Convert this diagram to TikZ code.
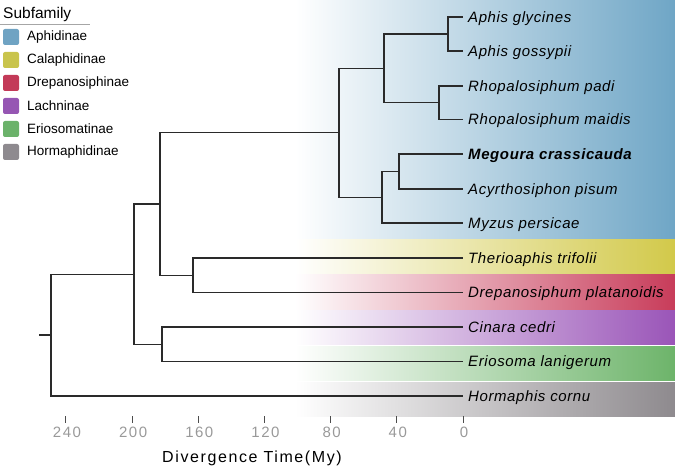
\documentclass[tikz,border=0pt]{standalone}
\usepackage{fontspec}
\setmainfont{Liberation Sans}
\newfontfamily\labfont[LetterSpace=4]{Liberation Sans}
\newfontfamily\axfont[LetterSpace=10]{Liberation Sans}
\definecolor{aphid}{HTML}{6FA6C6}
\definecolor{calaph}{HTML}{D2C94A}
\definecolor{drep}{HTML}{C83C5A}
\definecolor{lachn}{HTML}{9A55B8}
\definecolor{erio}{HTML}{6DB46A}
\definecolor{horma}{HTML}{8E8A8E}
\definecolor{lgaphid}{HTML}{6FA3C3}
\definecolor{lgcalaph}{HTML}{C9C44C}
\definecolor{lgdrep}{HTML}{C33A58}
\definecolor{lglachn}{HTML}{9656B3}
\definecolor{lgerio}{HTML}{6BB26A}
\definecolor{lghorma}{HTML}{8E8A8F}
\definecolor{treeline}{HTML}{2A2A2A}
\tikzset{
  branch/.style={draw=treeline, line width=1.1pt},
  leaf/.style={anchor=west, inner xsep=5pt, inner ysep=0pt, text height=10.7pt, text depth=0pt, font=\labfont\itshape\fontsize{15}{18}\selectfont},
  legbox/.style={fill=#1, rounded corners=2pt, minimum size=16pt, inner sep=0pt},
  legtext/.style={anchor=west, inner sep=0pt, font=\fontsize{13.5}{16}\selectfont},
  ticklab/.style={text=black!40, inner sep=0pt, font=\axfont\fontsize{15}{18}\selectfont},
  tickmark/.style={draw=black!70, line width=1pt}
}
\begin{document}
\begin{tikzpicture}[x=1pt,y=-1pt]
\useasboundingbox (0,0) rectangle (675,468);
% bands
\shade[left color=white, right color=aphid] (295,0) rectangle (675,238);
\shade[left color=white, right color=calaph] (295,239) rectangle (675,273);
\shade[left color=white, right color=drep] (295,274) rectangle (675,309);
\shade[left color=white, right color=lachn] (295,310) rectangle (675,344);
\shade[left color=white, right color=erio] (295,346) rectangle (675,380);
\shade[left color=white, right color=horma] (295,382) rectangle (675,416);
% leaves
\node[leaf] (t1) at (463,17) {Aphis glycines};
\node[leaf] (t2) at (463,51) {Aphis gossypii};
\node[leaf] (t3) at (463,86) {Rhopalosiphum padi};
\node[leaf] (t4) at (463,119.5) {Rhopalosiphum maidis};
\node[leaf, font=\labfont\bfseries\itshape\fontsize{15}{18}\selectfont] (t5) at (463,154) {Megoura crassicauda};
\node[leaf] (t6) at (463,189) {Acyrthosiphon pisum};
\node[leaf] (t7) at (463,223) {Myzus persicae};
\node[leaf] (t8) at (463,258) {Therioaphis trifolii};
\node[leaf] (t9) at (463,292.5) {Drepanosiphum platanoidis};
\node[leaf] (t10) at (463,327) {Cinara cedri};
\node[leaf] (t11) at (463,361.5) {Eriosoma lanigerum};
\node[leaf] (t12) at (463,396) {Hormaphis cornu};
% internal nodes
\coordinate (nA) at (448,34);
\coordinate (nR) at (439,102.75);
\coordinate (nAR) at (384,68.4);
\coordinate (nMA) at (399,171.5);
\coordinate (nMAM) at (382,197.25);
\coordinate (nAph) at (339,132.8);
\coordinate (nTD) at (193,275.25);
\coordinate (nAC) at (160,204);
\coordinate (nCE) at (162,344.25);
\coordinate (nX) at (134,274.1);
\coordinate (root) at (51,335);
\coordinate (r0) at (39,335);
% branches
\draw[branch] (nA) |- (t1.west);
\draw[branch] (nA) |- (t2.west);
\draw[branch] (nR) |- (t3.west);
\draw[branch] (nR) |- (t4.west);
\draw[branch] (nAR) |- (nA);
\draw[branch] (nAR) |- (nR);
\draw[branch] (nMA) |- (t5.west);
\draw[branch] (nMA) |- (t6.west);
\draw[branch] (nMAM) |- (nMA);
\draw[branch] (nMAM) |- (t7.west);
\draw[branch] (nAph) |- (nAR);
\draw[branch] (nAph) |- (nMAM);
\draw[branch] (nTD) |- (t8.west);
\draw[branch] (nTD) |- (t9.west);
\draw[branch] (nAC) |- (nAph);
\draw[branch] (nAC) |- (nTD);
\draw[branch] (nCE) |- (t10.west);
\draw[branch] (nCE) |- (t11.west);
\draw[branch] (nX) |- (nAC);
\draw[branch] (nX) |- (nCE);
\draw[branch] (root) |- (nX);
\draw[branch] (root) |- (t12.west);
\draw[branch] (r0) -- (root);
% axis
\foreach \v [count=\i] in {240,200,160,120,80,40,0}{
  \coordinate (tk\i) at ({463-\v*1.6542},416);
  \coordinate (tb\i) at ({463-\v*1.6542},423);
  \draw[tickmark] (tk\i) -- (tb\i);
  \node[ticklab] (tl\i) at ({464-\v*1.6542},432.5) {\v};
}
\node[font=\axfont\fontsize{16}{19}\selectfont, inner sep=0pt] (axtitle) at (252,458) {Divergence Time(My)};
% legend
\node[anchor=west, inner sep=0pt, font=\fontsize{15.5}{18}\selectfont] (legtitle) at (3,14) {Subfamily};
\coordinate (ulA) at (0,24.5);
\coordinate (ulB) at (90,24.5);
\draw[draw=black!35, line width=0.9pt] (ulA) -- (ulB);
\foreach \c/\t [count=\i] in {lgaphid/Aphidinae,lgcalaph/Calaphidinae,lgdrep/Drepanosiphinae,lglachn/Lachninae,lgerio/Eriosomatinae,lghorma/Hormaphidinae}{
  \node[legbox=\c] (lb\i) at (11,{37+23*(\i-1)}) {};
  \node[legtext] (lt\i) at (27,{37+23*(\i-1)}) {\t};
}
\end{tikzpicture}
\end{document}
